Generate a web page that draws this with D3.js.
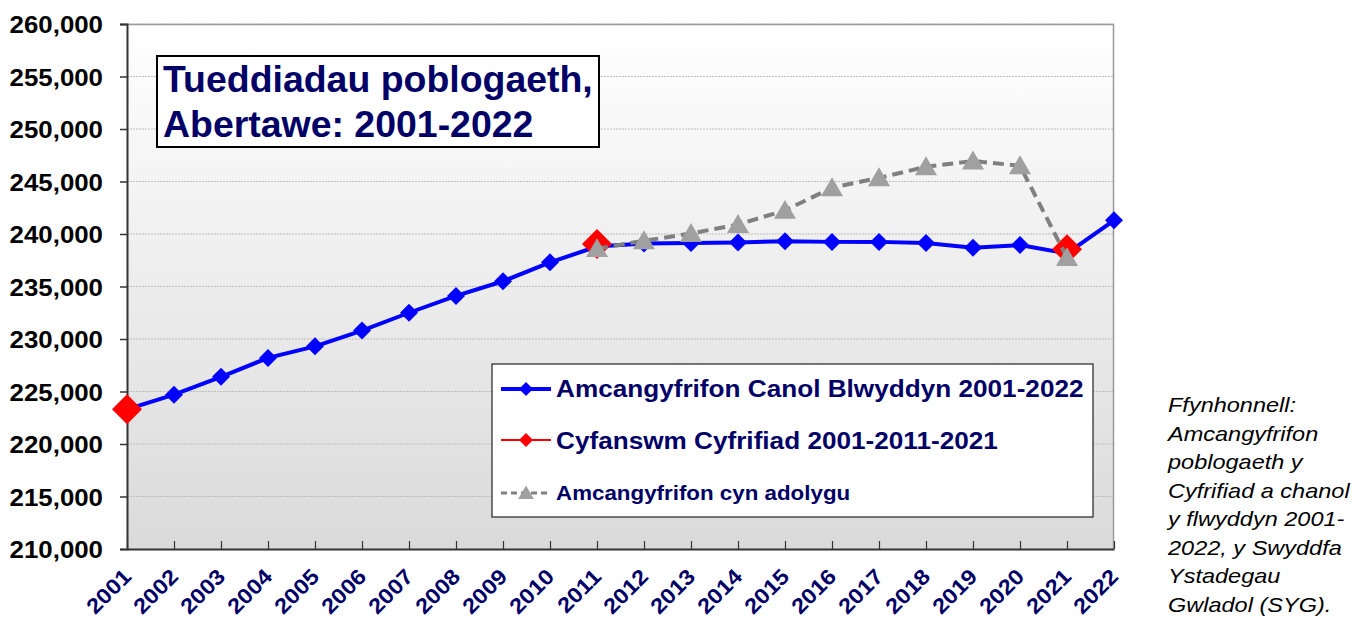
<!DOCTYPE html>
<html>
<head>
<meta charset="utf-8">
<script src="https://cdn.jsdelivr.net/npm/d3@7"></script>
<style>
  html, body { margin: 0; padding: 0; background: #fff; }
  svg { display: block; font-family: "Liberation Sans", Arial, sans-serif; }
</style>
</head>
<body>
<div id="chart"></div>
<script>
const years = d3.range(2001, 2023)
const midYear = [223300, 224700, 226400, 228200, 229300, 230800, 232500, 234100, 235500, 237300,
  238800, 239100, 239150, 239200, 239300, 239250, 239250, 239150, 238700, 238950, 238150, 241300]
const censusYears = [2001, 2011, 2021]
const census = [223300, 239050, 238550]
const prevYears = [2011, 2012, 2013, 2014, 2015, 2016, 2017, 2018, 2019, 2020, 2021]
const prevEst = [238600, 239350, 240050, 240900, 242250, 244400, 245350, 246400, 246950, 246500, 237750]
const yTicks = d3.range(210000, 260001, 5000)

const titleLines = ["Tueddiadau poblogaeth,", "Abertawe: 2001-2022"]
const legendLabels = ["Amcangyfrifon Canol Blwyddyn 2001-2022", "Cyfanswm Cyfrifiad 2001-2011-2021", "Amcangyfrifon cyn adolygu"]
const sourceLines = ["Ffynhonnell:", "Amcangyfrifon", "poblogaeth y", "Cyfrifiad a chanol", "y flwyddyn 2001-", "2022, y Swyddfa", "Ystadegau", "Gwladol (SYG)."]

const W = 1372, H = 621
const margin = {top: 24, right: 258, bottom: 72, left: 127}
const plotW = W - margin.left - margin.right
, plotH = H - margin.top - margin.bottom
, navy = "#000066"
, stretch = 1.1  // the reference text is a little wider than plain Arial

const svg = d3.select("#chart").append("svg")
  .attr("width", W)
  .attr("height", H)

const defs = svg.append("defs")
const grad = defs.append("linearGradient")
  .attr("id", "bg")
  .attr("x1", 0).attr("y1", 0).attr("x2", 0).attr("y2", 1)
grad.append("stop").attr("offset", "0%").attr("stop-color", "#ffffff")
grad.append("stop").attr("offset", "100%").attr("stop-color", "#dadada")

const x = d3.scalePoint().domain(years).range([0, plotW])
const y = d3.scaleLinear().domain([210000, 260000]).range([plotH, 0])

const g = svg.append("g").attr("transform", `translate(${margin.left},${margin.top})`)

g.append("rect")
  .attr("width", plotW)
  .attr("height", plotH)
  .style("fill", "url(#bg)")

// gridlines
g.selectAll(".grid")
  .data(yTicks.slice(1))
  .enter().append("line")
  .attr("x1", 0).attr("x2", plotW)
  .attr("y1", d => y(d)).attr("y2", d => y(d))
  .style("stroke", "#bdbdbd")
  .style("stroke-width", 1)
  .style("stroke-dasharray", "2,1")

// top + right border
g.append("path")
  .attr("d", `M0,0.5H${plotW - 0.5}V${plotH}`)
  .style("fill", "none")
  .style("stroke", "#9a9a9a")
  .style("stroke-width", 1.5)

// y axis
const yAxis = g.append("g")
  .call(d3.axisLeft(y).tickValues(yTicks).tickSize(7).tickFormat(d3.format(",")))
yAxis.select(".domain").style("stroke", "#333").style("stroke-width", 2)
yAxis.selectAll(".tick line").style("stroke", "#333").style("stroke-width", 1.5)
yAxis.selectAll("text")
  .attr("x", 0)
  .attr("dy", "0.38em")
  .attr("transform", `translate(-24,0) scale(${stretch},1)`)
  .style("font-size", "23.5px")
  .style("font-weight", "bold")
  .style("fill", "#000")

// x axis
const xAxis = g.append("g")
  .attr("transform", `translate(0,${plotH})`)
  .call(d3.axisBottom(x).tickSize(-8).tickSizeOuter(0))
xAxis.select(".domain").style("stroke", "#333").style("stroke-width", 2)
xAxis.selectAll(".tick line").style("stroke", "#333").style("stroke-width", 1.2)
xAxis.selectAll("text")
  .attr("x", 0).attr("y", 0).attr("dy", 0)
  .attr("transform", `translate(5,29) rotate(-45) scale(${stretch},1)`)
  .style("text-anchor", "end")
  .style("font-size", "21.5px")
  .style("font-weight", "bold")
  .style("fill", navy)

// series: mid-year estimates
const line = d3.line().x(d => x(d[0])).y(d => y(d[1]))
const diamond = r => `M0,${-r}L${r},0L0,${r}L${-r},0Z`
const triangle = r => `M0,${-r}L${r * 1.05},${r * 0.8}L${-r * 1.05},${r * 0.8}Z`

const midData = d3.zip(years, midYear)
g.append("path")
  .datum(midData)
  .attr("d", line)
  .style("fill", "none")
  .style("stroke", "#0000ff")
  .style("stroke-width", 4)
g.selectAll(".mid")
  .data(midData)
  .enter().append("path")
  .attr("transform", d => `translate(${x(d[0])},${y(d[1])})`)
  .attr("d", diamond(9))
  .style("fill", "#0000ff")

// census
g.selectAll(".census")
  .data(d3.zip(censusYears, census))
  .enter().append("path")
  .attr("transform", d => `translate(${x(d[0])},${y(d[1])})`)
  .attr("d", diamond(15))
  .style("fill", "#ff0000")

// pre-revision estimates
const prevData = d3.zip(prevYears, prevEst)
g.append("path")
  .datum(prevData)
  .attr("d", line)
  .style("fill", "none")
  .style("stroke", "#808080")
  .style("stroke-width", 4)
  .style("stroke-dasharray", "11,6")
g.selectAll(".prev")
  .data(prevData)
  .enter().append("path")
  .attr("transform", d => `translate(${x(d[0])},${y(d[1])})`)
  .attr("d", triangle(10.5))
  .style("fill", "#a0a0a0")

// title box
const title = svg.append("g")
title.append("rect")
  .attr("x", 157).attr("y", 56)
  .attr("width", 442).attr("height", 91)
  .style("fill", "#fff")
  .style("stroke", "#000")
  .style("stroke-width", 2)
title.selectAll("text")
  .data(titleLines)
  .enter().append("text")
  .attr("transform", (d, i) => `translate(163,${92 + i * 45}) scale(1.04,1)`)
  .text(d => d)
  .style("font-size", "36px")
  .style("font-weight", "bold")
  .style("fill", navy)

// legend
const legend = svg.append("g")
legend.append("rect")
  .attr("x", 492).attr("y", 364)
  .attr("width", 601).attr("height", 153)
  .style("fill", "#fff")
  .style("stroke", "#222")
  .style("stroke-width", 1.2)

const legendRows = [
  {label: legendLabels[0], y: 389, base: 397, size: 24, color: "#0000ff", width: 4, dash: null, mark: diamond(7), markColor: "#0000ff"},
  {label: legendLabels[1], y: 440, base: 449, size: 24, color: "#ff0000", width: 2, dash: null, mark: diamond(7), markColor: "#ff0000"},
  {label: legendLabels[2], y: 493, base: 500, size: 20.5, color: "#808080", width: 3, dash: "6,4", mark: triangle(7.5), markColor: "#a0a0a0"}
]
const lr = legend.selectAll(".lrow")
  .data(legendRows)
  .enter().append("g")
lr.append("line")
  .attr("x1", 501).attr("x2", 551)
  .attr("y1", d => d.y).attr("y2", d => d.y)
  .style("stroke", d => d.color)
  .style("stroke-width", d => d.width)
  .style("stroke-dasharray", d => d.dash)
lr.append("path")
  .attr("transform", d => `translate(526,${d.y})`)
  .attr("d", d => d.mark)
  .style("fill", d => d.markColor)
lr.append("text")
  .attr("transform", d => `translate(556,${d.base}) scale(1.09,1)`)
  .text(d => d.label)
  .style("font-size", d => d.size + "px")
  .style("font-weight", "bold")
  .style("fill", navy)

// source note
svg.append("g").selectAll("text")
  .data(sourceLines)
  .enter().append("text")
  .attr("transform", (d, i) => `translate(1168,${412 + i * 28.5}) scale(1.12,1)`)
  .text(d => d)
  .style("font-size", "21px")
  .style("font-style", "italic")
  .style("fill", "#000")
</script>
</body>
</html>
